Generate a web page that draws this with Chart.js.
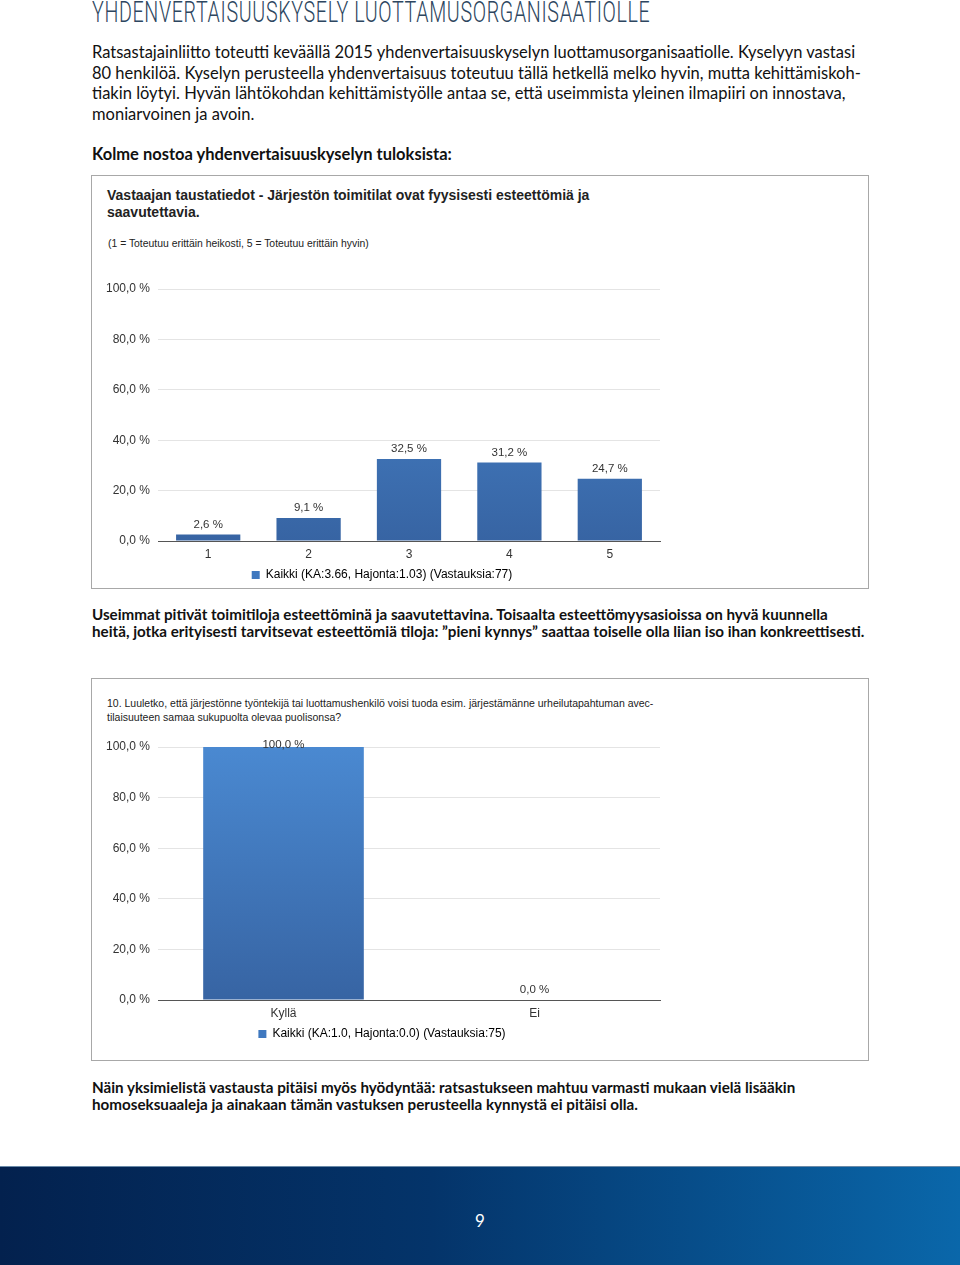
<!DOCTYPE html>
<html lang="fi">
<head>
    <meta charset="UTF-8">
    <title>Yhdenvertaisuuskysely luottamusorganisaatiolle</title>
    <script src="https://cdn.jsdelivr.net/npm/chart.js"></script>
    <style>
        body {
            margin: 0;
            width: 960px;
            height: 1265px;
            position: relative;
            background: #fff;
            font-family: Lato, "Open Sans", sans-serif;
            color: #111;
            overflow: hidden;
        }
        .abs { position: absolute; white-space: nowrap; }
        .heading {
            left: 92px;
            top: -6px;
            font-family: Roboto, sans-serif;
            font-weight: 300;
            font-size: 30px;
            letter-spacing: 1px;
            color: #2d4660;
            transform: scaleX(0.655);
            transform-origin: left top;
        }
        .intro {
            left: 92px;
            top: 42px;
            font-size: 16.5px;
            line-height: 20.7px;
        }
        .bold { font-weight: bold; }
        .box {
            position: absolute;
            left: 91px;
            width: 776px;
            border: 1px solid #a8a8a8;
            background: #fff;
        }
        .ctitle {
            font-family: "Liberation Sans", Arial, sans-serif;
            color: #222;
        }
        .chart-wrap { position: absolute; }
        .footer {
            position: absolute;
            left: 0;
            top: 1166px;
            width: 960px;
            height: 99px;
            background: linear-gradient(to right, #03214e 0%, #04346a 45%, #0a67aa 100%);
            border-top: 1px solid #6a8aa8;
        }
        .pagenum {
            position: absolute;
            left: 0;
            width: 960px;
            top: 1210px;
            text-align: center;
            color: #fff;
            font-size: 17px;
        }
    </style>
</head>
<body>
    <div class="abs heading">YHDENVERTAISUUSKYSELY LUOTTAMUSORGANISAATIOLLE</div>

    <div class="abs intro">
        Ratsastajainliitto toteutti keväällä 2015 yhdenvertaisuuskyselyn luottamusorganisaatiolle. Kyselyyn vastasi<br>
        80 henkilöä. Kyselyn perusteella yhdenvertaisuus toteutuu tällä hetkellä melko hyvin, mutta kehittämiskoh-<br>
        tiakin löytyi. Hyvän lähtökohdan kehittämistyölle antaa se, että useimmista yleinen ilmapiiri on innostava,<br>
        moniarvoinen ja avoin.
    </div>

    <div class="abs bold" style="left:92px; top:144px; font-size:16.5px;">Kolme nostoa yhdenvertaisuuskyselyn tuloksista:</div>

    <div class="box" style="top:175px; height:412px;">
        <div class="abs ctitle" style="left:15px; top:11px; font-size:14px; font-weight:bold; line-height:17px;">
            Vastaajan taustatiedot - Järjestön toimitilat ovat fyysisesti esteettömiä ja<br>saavutettavia.
        </div>
        <div class="abs ctitle" style="left:16px; top:62px; font-size:10.4px;">(1 = Toteutuu erittäin heikosti, 5 = Toteutuu erittäin hyvin)</div>
    </div>
    <div class="chart-wrap" style="left:92px; top:262px; width:775px; height:329px;">
        <canvas id="chart1"></canvas>
    </div>

    <div class="abs bold" style="left:92px; top:606px; font-size:15.2px; line-height:17px;">
        Useimmat pitivät toimitiloja esteettöminä ja saavutettavina. Toisaalta esteettömyysasioissa on hyvä kuunnella<br>
        heitä, jotka erityisesti tarvitsevat esteettömiä tiloja: ”pieni kynnys” saattaa toiselle olla liian iso ihan konkreettisesti.
    </div>

    <div class="box" style="top:678px; height:381px;">
        <div class="abs ctitle" style="left:15px; top:17px; font-size:10.5px; line-height:14px;">
            10. Luuletko, että järjestönne työntekijä tai luottamushenkilö voisi tuoda esim. järjestämänne urheilutapahtuman avec-<br>tilaisuuteen samaa sukupuolta olevaa puolisonsa?
        </div>
    </div>
    <div class="chart-wrap" style="left:92px; top:727px; width:775px; height:323px;">
        <canvas id="chart2"></canvas>
    </div>

    <div class="abs bold" style="left:92px; top:1079px; font-size:15.2px; line-height:17px;">
        Näin yksimielistä vastausta pitäisi myös hyödyntää: ratsastukseen mahtuu varmasti mukaan vielä lisääkin<br>
        homoseksuaaleja ja ainakaan tämän vastuksen perusteella kynnystä ei pitäisi olla.
    </div>

    <div class="footer"></div>
    <div class="pagenum">9</div>

    <script>
        // chart 1: toimitilat esteettömiä (1-5 scale)
        const scaleLabels = ['1', '2', '3', '4', '5'];
        const scaleValues = [2.6, 9.1, 32.5, 31.2, 24.7];
        const scaleLegend = 'Kaikki (KA:3.66, Hajonta:1.03) (Vastauksia:77)';

        // chart 2: avec-tilaisuus kysymys
        const avecLabels = ['Kyllä', 'Ei'];
        const avecValues = [100.0, 0.0];
        const avecLegend = 'Kaikki (KA:1.0, Hajonta:0.0) (Vastauksia:75)';

        const yTicks = [0, 20, 40, 60, 80, 100];

        const fontFamily = '"Liberation Sans", Arial, sans-serif';

        function fiPercent(v) {
            return v.toFixed(1).replace('.', ',') + ' %';
        }

        // draws the value label above each bar
        const valueLabels = {
            id: 'valueLabels',
            afterDatasetsDraw(chart) {
                const ctx = chart.ctx;
                const meta = chart.getDatasetMeta(0);
                const values = chart.data.datasets[0].data;
                ctx.save();
                ctx.font = '11.5px ' + fontFamily;
                ctx.fillStyle = '#333';
                ctx.textAlign = 'center';
                ctx.textBaseline = 'middle';
                meta.data.forEach((bar, i) => {
                    const y = Math.max(bar.y - 10, chart.chartArea.top - 2);
                    ctx.fillText(fiPercent(values[i]), bar.x, y);
                });
                ctx.restore();
            }
        };

        function barGradient(context) {
            const area = context.chart.chartArea;
            if (!area) return '#3f78bf';
            const g = context.chart.ctx.createLinearGradient(0, area.top, 0, area.bottom);
            g.addColorStop(0, '#4a89d1');
            g.addColorStop(1, '#3764a3');
            return g;
        }

        function makeChart(id, labels, values, legendText, padTop) {
            return new Chart(document.getElementById(id), {
                type: 'bar',
                data: {
                    labels: labels,
                    datasets: [{
                        label: legendText,
                        data: values,
                        backgroundColor: barGradient,
                        borderWidth: 0,
                        barPercentage: 0.64,
                        categoryPercentage: 1.0
                    }]
                },
                options: {
                    responsive: true,
                    maintainAspectRatio: false,
                    animation: false,
                    layout: {
                        padding: { top: padTop, right: 207, bottom: 0, left: 12 }
                    },
                    plugins: {
                        legend: {
                            position: 'bottom',
                            labels: {
                                boxWidth: 8,
                                boxHeight: 8,
                                padding: 4,
                                color: '#333',
                                font: { family: fontFamily, size: 12 },
                                generateLabels(chart) {
                                    return [{
                                        text: chart.data.datasets[0].label,
                                        fillStyle: '#3f78bf',
                                        strokeStyle: '#3f78bf',
                                        lineWidth: 0,
                                        datasetIndex: 0
                                    }];
                                }
                            }
                        },
                        tooltip: { enabled: false }
                    },
                    scales: {
                        x: {
                            grid: { display: false, drawTicks: false },
                            border: { display: true, color: '#555', width: 1 },
                            ticks: {
                                color: '#333',
                                padding: 6,
                                font: { family: fontFamily, size: 12 }
                            },
                            afterFit(scale) { scale.height = 24; }
                        },
                        y: {
                            min: 0,
                            max: 100,
                            afterBuildTicks(scale) {
                                scale.ticks = yTicks.map(v => ({ value: v }));
                            },
                            grid: {
                                color: '#e4e4e4',
                                drawTicks: false
                            },
                            border: { display: false },
                            ticks: {
                                color: '#333',
                                padding: 8,
                                font: { family: fontFamily, size: 12 },
                                callback: v => fiPercent(v)
                            },
                            afterFit(scale) { scale.width = 54; }
                        }
                    }
                },
                plugins: [valueLabels]
            });
        }

        makeChart('chart1', scaleLabels, scaleValues, scaleLegend, 27);
        makeChart('chart2', avecLabels, avecValues, avecLegend, 20);
    </script>
</body>
</html>
